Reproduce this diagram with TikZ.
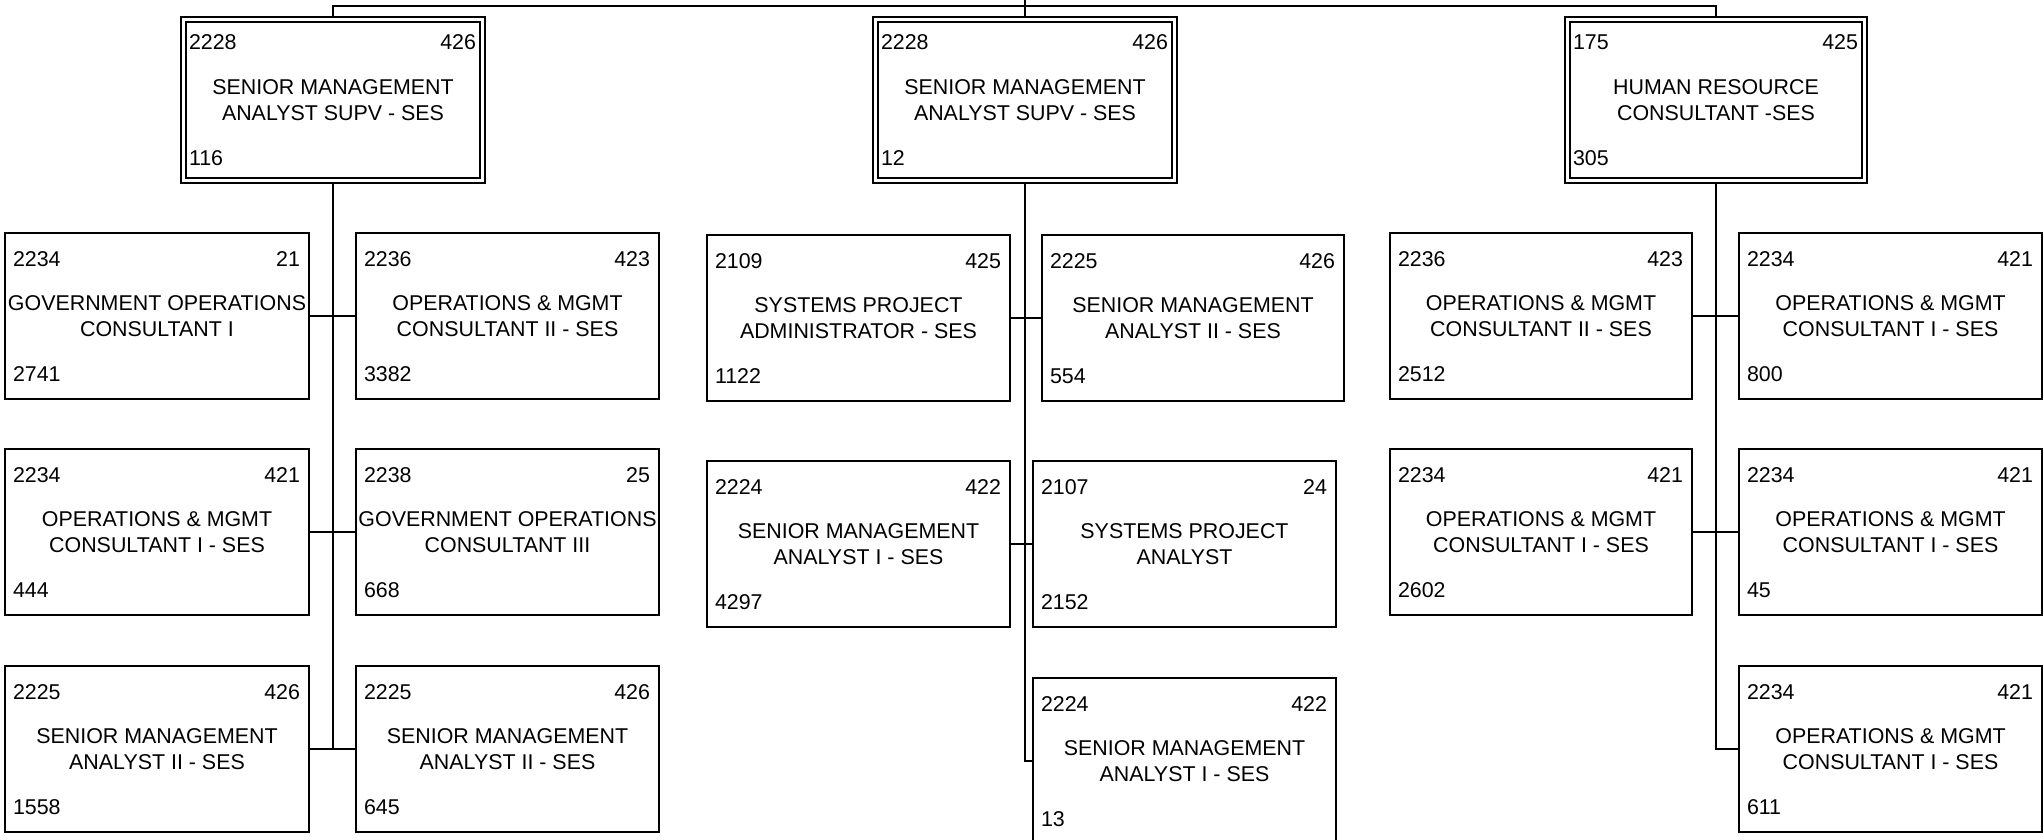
\documentclass[tikz,border=0pt]{standalone}
\usepackage{fontspec}
\setmainfont{Liberation Sans}
\newcommand\chartfont{\fontsize{21.4}{26}\selectfont}
\tikzset{
  pbox/.style={draw, line width=2pt, inner sep=0pt, outer sep=0pt, align=center, font=\chartfont},
  numtxt/.style={inner sep=0pt, outer sep=0pt, font=\chartfont},
  conn/.style={line width=2.2pt},
  innerframe/.style={line width=1.1pt},
}
% name, x1, y1, x2, y2, top-left, top-right, title, bottom-left
\newcommand\posbox[9]{%
  \node[pbox, minimum width={#4-#2}, minimum height={#5-#3}] (#1) at ({(#2+#4)/2},{(#3+#5)/2}) {#8};
  \node[numtxt, anchor=base west] (#1-tl) at ([shift={(8,33)}]#1.north west) {#6};
  \node[numtxt, anchor=base east] (#1-tr) at ([shift={(-9,33)}]#1.north east) {#7};
  \node[numtxt, anchor=base west] (#1-bl) at ([shift={(8,148)}]#1.north west) {#9};
}
\begin{document}
\begin{tikzpicture}[x=1pt, y=-1pt]
\useasboundingbox (0,0) rectangle (2043,840);
\clip (0,0) rectangle (2043,840);
% top level
\posbox{t1}{181}{17}{485}{183}{2228}{426}{SENIOR MANAGEMENT\\ANALYST SUPV - SES}{116}
\posbox{t2}{873}{17}{1177}{183}{2228}{426}{SENIOR MANAGEMENT\\ANALYST SUPV - SES}{12}
\posbox{t3}{1565}{17}{1867}{183}{175}{425}{HUMAN RESOURCE\\CONSULTANT -SES}{305}
\foreach \n in {t1,t2,t3}{
  \draw[innerframe] ([shift={(5,5)}]\n.north west) rectangle ([shift={(-5,-5)}]\n.south east);
}
% left group
\posbox{a1}{5}{233}{309}{399}{2234}{21}{GOVERNMENT OPERATIONS\\CONSULTANT I}{2741}
\posbox{b1}{356}{233}{659}{399}{2236}{423}{OPERATIONS \& MGMT\\CONSULTANT II - SES}{3382}
\posbox{a2}{5}{449}{309}{615}{2234}{421}{OPERATIONS \& MGMT\\CONSULTANT I - SES}{444}
\posbox{b2}{356}{449}{659}{615}{2238}{25}{GOVERNMENT OPERATIONS\\CONSULTANT III}{668}
\posbox{a3}{5}{666}{309}{832}{2225}{426}{SENIOR MANAGEMENT\\ANALYST II - SES}{1558}
\posbox{b3}{356}{666}{659}{832}{2225}{426}{SENIOR MANAGEMENT\\ANALYST II - SES}{645}
% middle group
\posbox{c1}{707}{235}{1010}{401}{2109}{425}{SYSTEMS PROJECT\\ADMINISTRATOR - SES}{1122}
\posbox{d1}{1042}{235}{1344}{401}{2225}{426}{SENIOR MANAGEMENT\\ANALYST II - SES}{554}
\posbox{c2}{707}{461}{1010}{627}{2224}{422}{SENIOR MANAGEMENT\\ANALYST I - SES}{4297}
\posbox{d2}{1033}{461}{1336}{627}{2107}{24}{SYSTEMS PROJECT\\ANALYST}{2152}
\posbox{d3}{1033}{678}{1336}{844}{2224}{422}{SENIOR MANAGEMENT\\ANALYST I - SES}{13}
% right group
\posbox{e1}{1390}{233}{1692}{399}{2236}{423}{OPERATIONS \& MGMT\\CONSULTANT II - SES}{2512}
\posbox{f1}{1739}{233}{2042}{399}{2234}{421}{OPERATIONS \& MGMT\\CONSULTANT I - SES}{800}
\posbox{e2}{1390}{449}{1692}{615}{2234}{421}{OPERATIONS \& MGMT\\CONSULTANT I - SES}{2602}
\posbox{f2}{1739}{449}{2042}{615}{2234}{421}{OPERATIONS \& MGMT\\CONSULTANT I - SES}{45}
\posbox{f3}{1739}{666}{2042}{832}{2234}{421}{OPERATIONS \& MGMT\\CONSULTANT I - SES}{611}
% connectors
\coordinate (parent) at (t2.north |- 0,0);
\draw[conn] (parent) -- (t2.north);
\draw[conn] (t1.north) -- ++(0,-11) -| (t3.north);
\draw[conn] (t1.south) -- (t1.south |- a3.east);
\draw[conn] (a1.east) -- (b1.west);
\draw[conn] (a2.east) -- (b2.west);
\draw[conn] (a3.east) -- (b3.west);
\draw[conn] (t2.south) |- (d3.west);
\draw[conn] (c1.east) -- (d1.west);
\draw[conn] (c2.east) -- (d2.west);
\draw[conn] (t3.south) |- (f3.west);
\draw[conn] (e1.east) -- (f1.west);
\draw[conn] (e2.east) -- (f2.west);
\end{tikzpicture}
\end{document}
